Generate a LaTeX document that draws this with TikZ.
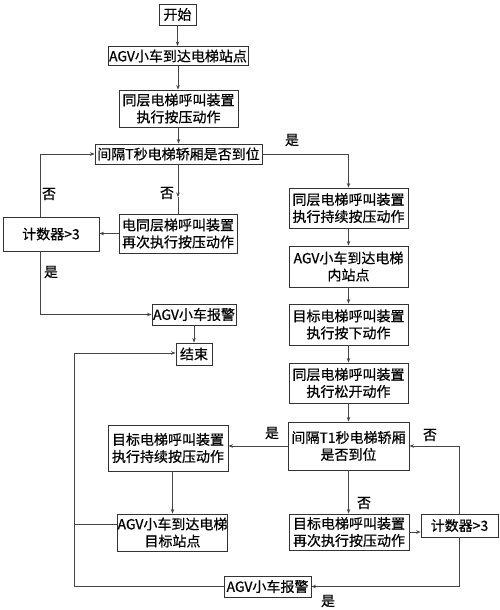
\documentclass[tikz,border=0pt]{standalone}
\usepackage{fontspec}
\setmainfont{Noto Sans CJK SC}[FakeBold=0.6]
\usetikzlibrary{arrows.meta}
\definecolor{boxc}{HTML}{333333}
\definecolor{linec}{HTML}{444444}
\begin{document}
\begin{tikzpicture}[x=1pt,y=-1pt,
 box/.style={draw=boxc, line width=0.9pt, inner sep=0pt, align=center, font=\fontsize{14}{17}\selectfont},
 conn/.style={draw=linec, line width=0.8pt},
 arr/.style={conn, -{Stealth[length=4.5pt,width=3.5pt]}},
 lbl/.style={font=\fontsize{14}{16}\selectfont, inner sep=0pt}]
\useasboundingbox[fill=white] (0,0) rectangle (500,610);

\node[box, minimum width=37pt, minimum height=21pt] (start) at (177.5,14.5) {开始};
\node[box, minimum width=140pt, minimum height=19pt] (n2) at (178,56) {AGV小车到达电梯站点};
\node[box, minimum width=119pt, minimum height=37pt] (n3) at (178.5,108.5) {同层电梯呼叫装置\\执行按压动作};
\node[box, minimum width=167pt, minimum height=20pt] (n4) at (178.5,154) {间隔T秒电梯轿厢是否到位};
\node[box, minimum width=118pt, minimum height=39pt] (n5) at (178,233.5) {电同层梯呼叫装置\\再次执行按压动作};
\node[box, minimum width=96pt, minimum height=34pt] (c1) at (51,234) {计数器>3};
\node[box, minimum width=119pt, minimum height=40pt] (r1) at (348.5,208) {同层电梯呼叫装置\\执行持续按压动作};
\node[box, minimum width=119pt, minimum height=41pt] (r2) at (348.5,266.5) {AGV小车到达电梯\\内站点};
\node[box, minimum width=84pt, minimum height=21pt] (a1) at (194,314.5) {AGV小车报警};
\node[box, minimum width=36pt, minimum height=22pt] (end) at (194,354) {结束};
\node[box, minimum width=119pt, minimum height=41pt] (r3) at (348.5,324.5) {目标电梯呼叫装置\\执行按下动作};
\node[box, minimum width=119pt, minimum height=40pt] (r4) at (348.5,383) {同层电梯呼叫装置\\执行松开动作};
\node[box, minimum width=121pt, minimum height=48pt] (r5) at (348.5,446) {间隔T1秒电梯轿厢\\是否到位};
\node[box, minimum width=120pt, minimum height=46pt] (l1) at (168,448) {目标电梯呼叫装置\\执行持续按压动作};
\node[box, minimum width=109pt, minimum height=37pt] (l2) at (172.5,532.5) {AGV小车到达电梯\\目标站点};
\node[box, minimum width=120pt, minimum height=36pt] (r6) at (349,532) {目标电梯呼叫装置\\再次执行按压动作};
\node[box, minimum width=77pt, minimum height=23pt] (c2) at (459.5,525.5) {计数器>3};
\node[box, minimum width=87pt, minimum height=21pt] (a2) at (267.5,586.5) {AGV小车报警};

% labels
\node[lbl] (y1) at (292,140) {是};
\node[lbl] (no1) at (49,194) {否};
\node[lbl] (no2) at (167,193) {否};
\node[lbl] (y2) at (51,272) {是};
\node[lbl] (y3) at (272,433) {是};
\node[lbl] (no3) at (430,435) {否};
\node[lbl] (no4) at (364,503) {否};
\node[lbl] (y4) at (328,601) {是};

% connectors
\draw[arr] (start.south) -- (start.south |- n2.north);
\draw[arr] (n2.south) -- (n2.south |- n3.north);
\draw[arr] (n3.south) -- (n3.south |- n4.north);
\coordinate (m1) at (178,197);
\draw[arr] (n4.south -| m1) -- (m1);
\draw[conn] (m1) -- (m1 |- n5.north);
\draw[arr] (n5.west) -- (n5.west -| c1.east);
\coordinate (cl) at (40,154);
\draw[arr] (c1.north -| cl) -- (cl) -- (cl -| n4.west);
\coordinate (cl2) at (40,314.5);
\draw[arr] (c1.south -| cl2) -- (cl2) -- (cl2 -| a1.west);
\draw[arr] (n4.east) -- (n4.east -| r1.north) -- (r1.north);
\draw[arr] (r1.south) -- (r2.north);
\draw[arr] (r2.south) -- (r3.north);
\draw[arr] (r3.south) -- (r4.north);
\draw[arr] (r4.south) -- (r5.north);
\draw[arr] (a1.south) -- (end.north);
\draw[arr] (r5.west) -- (r5.west -| l1.east);
\draw[arr] (l1.south -| l2.north) -- (l2.north);
\draw[arr] (r5.south) -- (r5.south |- r6.north);
\draw[arr] (r6.east) -- (r6.east -| c2.west);
\coordinate (rr) at (459,446);
\draw[arr] (c2.north -| rr) -- (rr) -- (r5.east);
\coordinate (rb) at (459,586.5);
\draw[arr] (c2.south -| rb) -- (rb) -- (a2.east);
\coordinate (bl) at (74,586.5);
\coordinate (tl) at (74,353);
\coordinate (ml) at (74,524);
\draw[conn] (a2.west) -- (bl);
\draw[arr] (bl) -- (tl) -- (tl -| end.west);
\draw[conn] (l2.west |- ml) -- (ml);
\end{tikzpicture}
\end{document}
